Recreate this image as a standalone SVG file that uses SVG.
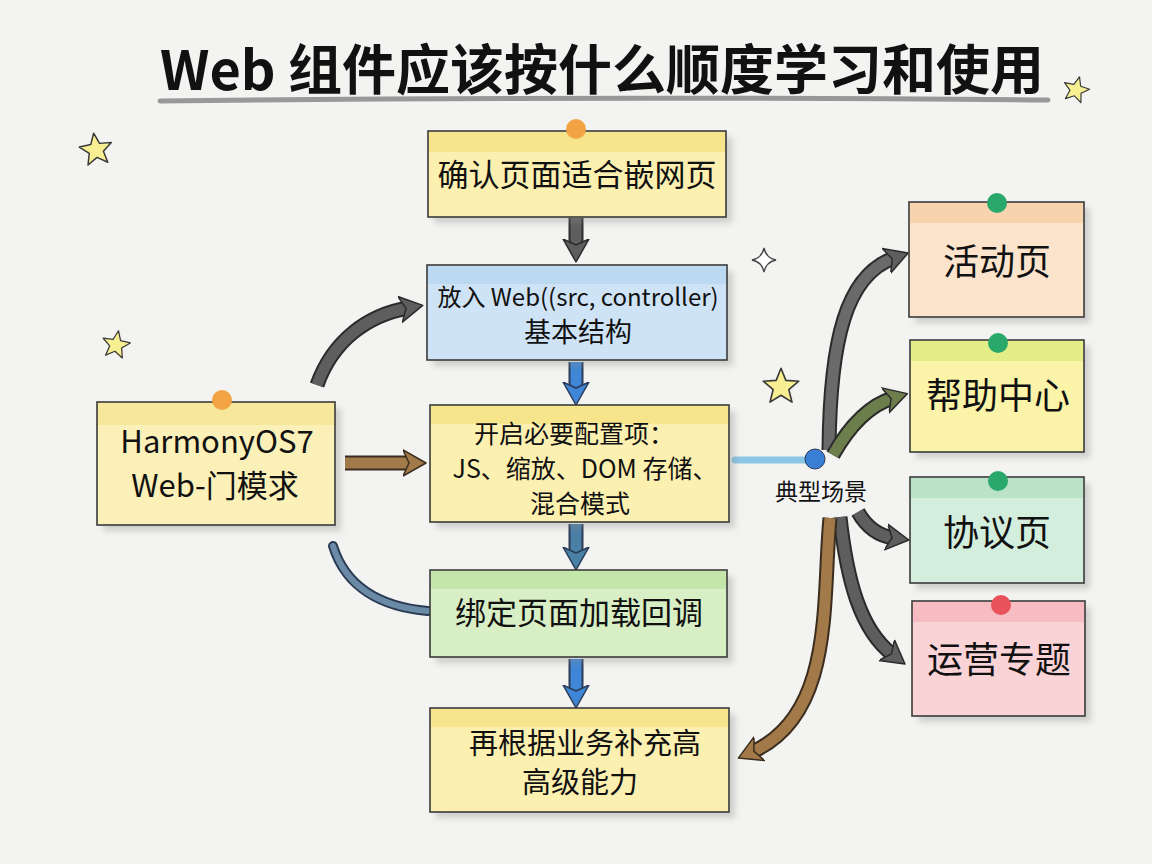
<svg xmlns="http://www.w3.org/2000/svg" width="1152" height="864" viewBox="0 0 1152 864">
<defs>
<style>
.bg{fill:#f3f3f1}
.box{stroke:#3a3a3a;stroke-width:1.6}
.shadow{fill:#8a8a8a;opacity:0.35;filter:url(#blur)}
.t{font-family:"Noto Sans CJK SC","Noto Sans",sans-serif;fill:#111;text-anchor:middle}
.r{font-size:36px}
.outline{fill:none;stroke:#2b2b2b;stroke-width:15}
.star{fill:#f7ef92;stroke:#3a3a3a;stroke-width:1.5;stroke-linejoin:round}
</style>
<filter id="blur" x="-10%" y="-10%" width="120%" height="120%"><feGaussianBlur stdDeviation="3"/></filter>
<marker id="hGray" viewBox="0 0 30 30" markerWidth="30" markerHeight="30" refX="8" refY="15" orient="auto" markerUnits="userSpaceOnUse"><path d="M0,2 L23,15 L0,28 L6,15 Z" fill="#5e5e5e" stroke="#2b2b2b" stroke-width="1.5" stroke-linejoin="round"/></marker>
<marker id="hBlue" viewBox="0 0 30 30" markerWidth="30" markerHeight="30" refX="8" refY="15" orient="auto" markerUnits="userSpaceOnUse"><path d="M0,2 L23,15 L0,28 L6,15 Z" fill="#3f86d6" stroke="#2b3b55" stroke-width="1.5" stroke-linejoin="round"/></marker>
<marker id="hTeal" viewBox="0 0 30 30" markerWidth="30" markerHeight="30" refX="8" refY="15" orient="auto" markerUnits="userSpaceOnUse"><path d="M0,2 L23,15 L0,28 L6,15 Z" fill="#4a7fa6" stroke="#2b3b55" stroke-width="1.5" stroke-linejoin="round"/></marker>
<marker id="hBrown" viewBox="0 0 30 30" markerWidth="30" markerHeight="30" refX="8" refY="15" orient="auto" markerUnits="userSpaceOnUse"><path d="M0,2 L23,15 L0,28 L6,15 Z" fill="#a27a4a" stroke="#3a2c1e" stroke-width="1.5" stroke-linejoin="round"/></marker>
<marker id="hOlive" viewBox="0 0 30 30" markerWidth="30" markerHeight="30" refX="8" refY="15" orient="auto" markerUnits="userSpaceOnUse"><path d="M0,2 L23,15 L0,28 L6,15 Z" fill="#6c7e4c" stroke="#2b2b2b" stroke-width="1.5" stroke-linejoin="round"/></marker>
<path id="star" d="M0,-17 L4.41,-6.07 L16.17,-5.25 L7.13,2.32 L9.99,13.75 L0,7.5 L-9.99,13.75 L-7.13,2.32 L-16.17,-5.25 L-4.41,-6.07 Z"/>
</defs>

<rect class="bg" x="0" y="0" width="1152" height="864"/>

<g id="title">
<text class="t" x="602" y="90" font-size="54" font-weight="bold">Web 组件应该按什么顺度学习和使用</text>
<path d="M160,101 Q600,96 1048,100" fill="none" stroke="#7a7a7a" stroke-width="5" stroke-linecap="round" opacity="0.75"/>
</g>

<g id="decor">
<use href="#star" class="star" transform="translate(96,150) rotate(-8)"/>
<use href="#star" class="star" transform="translate(116,345) scale(0.85) rotate(10)"/>
<use href="#star" class="star" transform="translate(781,387) scale(1.1)"/>
<use href="#star" class="star" transform="translate(1076,90) scale(0.8) rotate(15)"/>
<path d="M764,248 Q766,258 776,260 Q766,262 764,272 Q762,262 752,260 Q762,258 764,248 Z" fill="#fff" stroke="#444" stroke-width="1.3"/>
</g>

<g id="connectors">
<path class="outline" d="M576,218 L576,247"/>
<path d="M576,218 L576,247" fill="none" stroke="#5e5e5e" stroke-width="11" marker-end="url(#hGray)"/>
<path class="outline" d="M576,362 L576,390" style="stroke:#2b3b55"/>
<path d="M576,362 L576,390" fill="none" stroke="#3f86d6" stroke-width="11" marker-end="url(#hBlue)"/>
<path class="outline" d="M576,524 L576,555" style="stroke:#2b3b55"/>
<path d="M576,524 L576,555" fill="none" stroke="#4a7fa6" stroke-width="11" marker-end="url(#hTeal)"/>
<path class="outline" d="M576,659 L576,693" style="stroke:#2b3b55"/>
<path d="M576,659 L576,693" fill="none" stroke="#3f86d6" stroke-width="11" marker-end="url(#hBlue)"/>
<path class="outline" d="M345,463 L411,463" style="stroke:#3a2c1e"/>
<path d="M345,463 L411,463" fill="none" stroke="#a27a4a" stroke-width="11" marker-end="url(#hBrown)"/>
<path class="outline" d="M317,385 C333,340 368,315 408,308"/>
<path d="M317,385 C333,340 368,315 408,308" fill="none" stroke="#5e5e5e" stroke-width="11" marker-end="url(#hGray)"/>
<path d="M333,546 C346,588 382,607 428,611" fill="none" stroke="#2b3b55" stroke-width="10" stroke-linecap="round"/>
<path d="M333,546 C346,588 382,607 428,611" fill="none" stroke="#6a8aa6" stroke-width="6" stroke-linecap="round"/>
<path d="M735,460 L808,460" fill="none" stroke="#8cc6e6" stroke-width="7" stroke-linecap="round"/>
<path class="outline" d="M829,450 C830,340 846,275 894,258"/>
<path d="M829,450 C830,340 846,275 894,258" fill="none" stroke="#6a6a6a" stroke-width="11" marker-end="url(#hGray)"/>
<path class="outline" d="M833,455 C850,425 870,405 893,398"/>
<path d="M833,455 C850,425 870,405 893,398" fill="none" stroke="#6c7e4c" stroke-width="11" marker-end="url(#hOlive)"/>
<path class="outline" d="M858,512 C867,528 879,536 894,538"/>
<path d="M858,512 C867,528 879,536 894,538" fill="none" stroke="#5e5e5e" stroke-width="11" marker-end="url(#hGray)"/>
<path class="outline" d="M840,517 C847,580 860,630 893,655"/>
<path d="M840,517 C847,580 860,630 893,655" fill="none" stroke="#5e5e5e" stroke-width="11" marker-end="url(#hGray)"/>
<path class="outline" d="M830,518 C822,600 835,715 752,752" style="stroke:#3a2c1e"/>
<path d="M830,518 C822,600 835,715 752,752" fill="none" stroke="#a27a4a" stroke-width="11" marker-end="url(#hBrown)"/>
<circle cx="815" cy="459" r="10" fill="#3a7fd6" stroke="#2b3b55" stroke-width="1"/>
<text class="t" x="821" y="500" font-size="23">典型场景</text>
</g>

<g id="n_confirm">
<rect class="shadow" x="434" y="137" width="298" height="86"/>
<rect class="box" x="428" y="131" width="298" height="86" fill="#fbf0b0"/>
<rect x="429" y="132" width="296" height="20" fill="#f6e58a"/>
<circle cx="576" cy="129" r="10" fill="#f2a444"/>
<text class="t" x="577" y="186" font-size="31">确认页面适合嵌网页</text>
</g>

<g id="n_put">
<rect class="shadow" x="433" y="271" width="300" height="95"/>
<rect class="box" x="427" y="265" width="300" height="95" fill="#cfe3f6"/>
<rect x="428" y="266" width="298" height="18" fill="#bcd9f2"/>
<text class="t" x="578" y="306" font-size="24">放入 Web((src, controller)</text>
<text class="t" x="578" y="342" font-size="27">基本结构</text>
</g>

<g id="n_config">
<rect class="shadow" x="436" y="411" width="299" height="117"/>
<rect class="box" x="430" y="405" width="299" height="117" fill="#fbf0b0"/>
<rect x="431" y="406" width="297" height="18" fill="#f6e58a"/>
<text class="t" x="574" y="443" font-size="25">开启必要配置项：</text>
<text class="t" x="585" y="478" font-size="25">JS、缩放、DOM 存储、</text>
<text class="t" x="580" y="513" font-size="25">混合模式</text>
</g>

<g id="n_bind">
<rect class="shadow" x="436" y="576" width="297" height="87"/>
<rect class="box" x="430" y="570" width="297" height="87" fill="#d8efc6"/>
<rect x="431" y="571" width="295" height="18" fill="#c4e6aa"/>
<text class="t" x="579" y="624" font-size="31">绑定页面加载回调</text>
</g>

<g id="n_more">
<rect class="shadow" x="436" y="714" width="299" height="104"/>
<rect class="box" x="430" y="708" width="299" height="104" fill="#fbf0b0"/>
<rect x="431" y="709" width="297" height="18" fill="#f6e58a"/>
<text class="t" x="585" y="754" font-size="29">再根据业务补充高</text>
<text class="t" x="580" y="793" font-size="29">高级能力</text>
</g>

<g id="n_harmony">
<rect class="shadow" x="103" y="408" width="238" height="123"/>
<rect class="box" x="97" y="402" width="238" height="123" fill="#fbf0b8"/>
<rect x="98" y="403" width="236" height="22" fill="#f7e79a"/>
<circle cx="222" cy="400" r="10" fill="#f2a444"/>
<text class="t" x="217" y="453" font-size="31">HarmonyOS7</text>
<text class="t" x="215" y="497" font-size="31">Web-门模求</text>
</g>

<g id="n_activity">
<rect class="shadow" x="915" y="208" width="175" height="115"/>
<rect class="box" x="909" y="202" width="175" height="115" fill="#fbe3cc"/>
<rect x="910" y="203" width="173" height="20" fill="#f7d3ae"/>
<circle cx="997" cy="203" r="10" fill="#2aa86b"/>
<text class="t r" x="997" y="275">活动页</text>
</g>

<g id="n_help">
<rect class="shadow" x="916" y="346" width="174" height="112"/>
<rect class="box" x="910" y="340" width="174" height="112" fill="#fbf3a8"/>
<rect x="911" y="341" width="172" height="20" fill="#e4ee88"/>
<circle cx="998" cy="343" r="10" fill="#2aa86b"/>
<text class="t r" x="998" y="409">帮助中心</text>
</g>

<g id="n_agreement">
<rect class="shadow" x="916" y="483" width="174" height="106"/>
<rect class="box" x="910" y="477" width="174" height="106" fill="#d3eedc"/>
<rect x="911" y="478" width="172" height="20" fill="#b9e2c6"/>
<circle cx="998" cy="481" r="10" fill="#2aa86b"/>
<text class="t r" x="997" y="546">协议页</text>
</g>

<g id="n_ops">
<rect class="shadow" x="918" y="607" width="173" height="115"/>
<rect class="box" x="912" y="601" width="173" height="115" fill="#fad3d6"/>
<rect x="913" y="602" width="171" height="20" fill="#f6bcc1"/>
<circle cx="1001" cy="605" r="10" fill="#e8525a"/>
<text class="t r" x="999" y="673">运营专题</text>
</g>
</svg>
